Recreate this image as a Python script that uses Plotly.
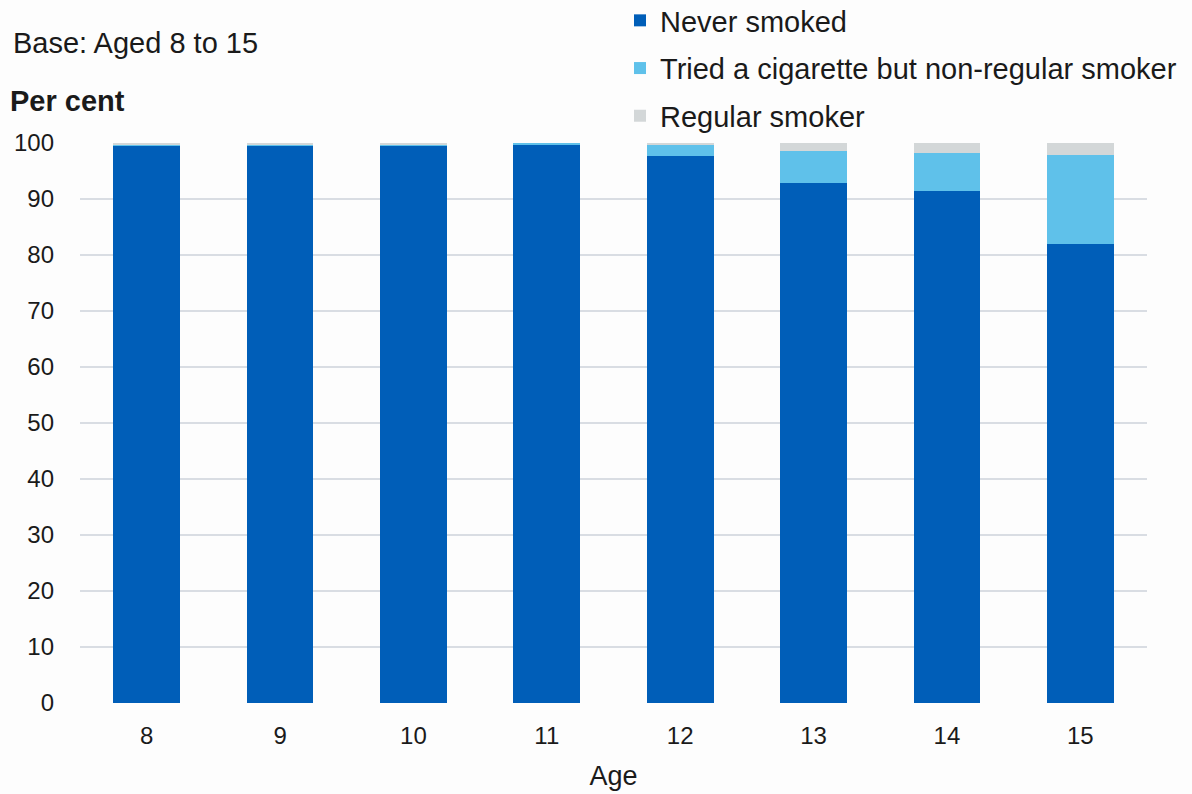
import plotly.graph_objects as go

ages = ["8", "9", "10", "11", "12", "13", "14", "15"]
never_smoked = [99.4, 99.4, 99.4, 99.8, 97.6, 92.9, 91.5, 81.9]
tried = [0.4, 0.4, 0.4, 0.2, 2.2, 5.7, 6.8, 16.0]
regular = [0.2, 0.2, 0.2, 0.0, 0.2, 1.4, 1.7, 2.1]

series = [
    ("Never smoked", never_smoked, "#005EB8"),
    ("Tried a cigarette but non-regular smoker", tried, "#5FC1EA"),
    ("Regular smoker", regular, "#D3D7D8"),
]

FONT = "Liberation Sans, Arial, sans-serif"

fig = go.Figure()
for i, (name, vals, col) in enumerate(series):
    fig.add_trace(go.Bar(
        x=ages, y=vals, name=name, legendgroup=f"g{i}",
        marker=dict(color=col, line=dict(width=0)),
        hoverinfo="x+y+name",
    ))

fig.update_layout(
    width=1192, height=794,
    barmode="stack", bargap=0.5,
    paper_bgcolor="#FDFDFD", plot_bgcolor="#FDFDFD",
    margin=dict(l=80, r=45, t=143, b=91, autoexpand=False),
    font=dict(family=FONT, size=24, color="#1a1a1a"),
    showlegend=True,
    legend=dict(
        x=620, xref="paper", y=-5, yref="paper", yanchor="top",
        traceorder="grouped", tracegroupgap=7,
        font=dict(size=29, color="#1a1a1a"),
        bgcolor="rgba(0,0,0,0)",
        itemclick=False, itemdoubleclick=False,
    ),
    xaxis=dict(
        title=dict(text="Age", font=dict(size=27), standoff=18),
        showgrid=False, ticks="", ticklabelstandoff=16,
        tickfont=dict(size=24), showline=False,
    ),
    yaxis=dict(
        range=[0, 100], dtick=10, showgrid=True, gridcolor="#D9DDE3",
        gridwidth=2, zeroline=False, ticks="", ticklabelstandoff=25,
        tickfont=dict(size=24),
    ),
    annotations=[
        dict(text="Base: Aged 8 to 15", x=11, y=43, xref="paper", yref="paper",
             showarrow=False, font=dict(size=29, color="#1a1a1a"),
             xanchor="left", yanchor="middle"),
        dict(text="<b>Per cent</b>", x=8, y=101, xref="paper", yref="paper",
             showarrow=False, font=dict(size=29, color="#1a1a1a"),
             xanchor="left", yanchor="middle"),
    ],
)

# convert pixel positions to paper coordinates
pw = 1192 - 80 - 45
ph = 794 - 143 - 91
fig.layout.legend.x = (620 - 80) / pw
fig.layout.legend.y = (794 - 91 - fig.layout.legend.y) / ph
for a in fig.layout.annotations:
    a.x = (a.x - 80) / pw
    a.y = (794 - 91 - a.y) / ph

fig.write_html("out.html")
